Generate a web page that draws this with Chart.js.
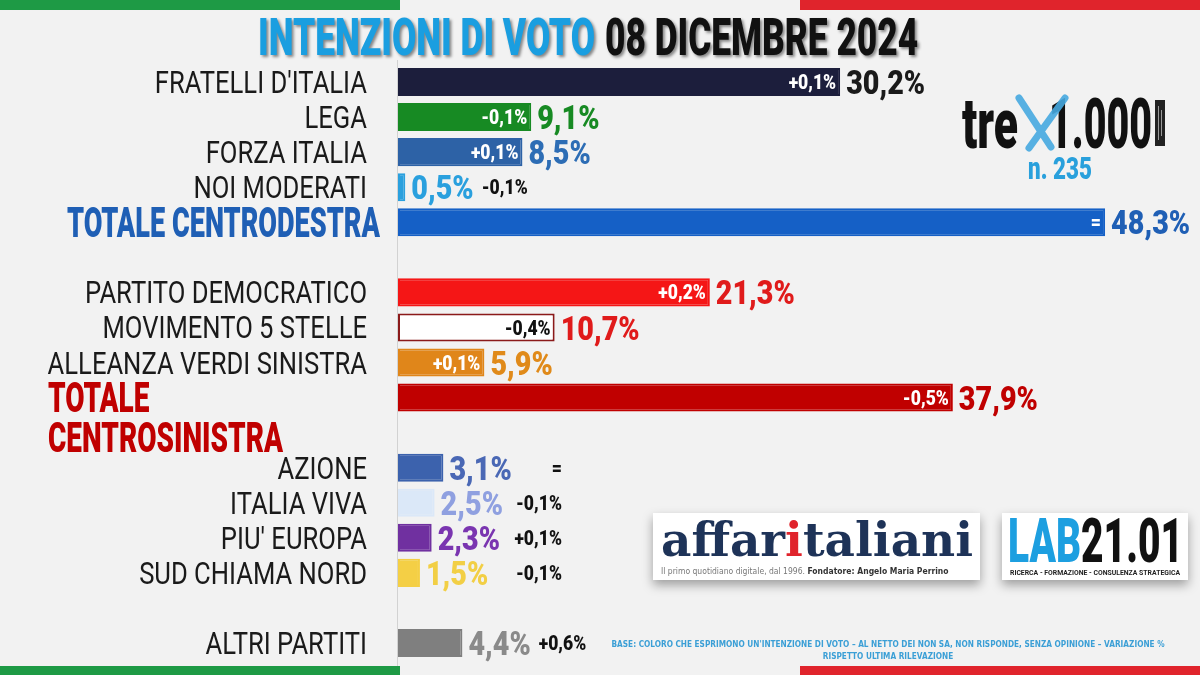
<!DOCTYPE html>
<html>
<head>
<meta charset="utf-8">
<script src="https://cdn.jsdelivr.net/npm/chart.js@4.4.1/dist/chart.umd.min.js"></script>
<style>
html, body { margin: 0; padding: 0; background: #f2f2f2; }
#wrap { position: relative; width: 1200px; height: 675px; }
</style>
</head>
<body>
<div id="wrap"><canvas id="voto"></canvas></div>
<script>
// dati del sondaggio (le righe vuote sono solo spazi tra i gruppi)
var partiti = ["FRATELLI D'ITALIA", "LEGA", "FORZA ITALIA", "NOI MODERATI", "TOTALE CENTRODESTRA", "",
  "PARTITO DEMOCRATICO", "MOVIMENTO 5 STELLE", "ALLEANZA VERDI SINISTRA", "TOTALE CENTROSINISTRA", "",
  "AZIONE", "ITALIA VIVA", "PIU' EUROPA", "SUD CHIAMA NORD", "", "ALTRI PARTITI"];
var percentuali = [30.2, 9.1, 8.5, 0.5, 48.3, null, 21.3, 10.7, 5.9, 37.9, null, 3.1, 2.5, 2.3, 1.5, null, 4.4];
var variazioni = ["+0,1%", "-0,1%", "+0,1%", "-0,1%", "=", null, "+0,2%", "-0,4%", "+0,1%", "-0,5%", null,
  "=", "-0,1%", "+0,1%", "-0,1%", null, "+0,6%"];

var coloriBarre = ["#1c1e3c", "#178a23", "#2d62a6", "#2aa0de", "#1560c6", null,
  "#f51616", "#ffffff", "#e0861a", "#c00000", null,
  "#3c62ad", "#dbe8f8", "#7030a0", "#f4cf45", null, "#7f7f7f"];
var coloriBordo = ["#1c1e3c", "#178a23", "#2d62a6", "#2aa0de", "#1560c6", null,
  "#f51616", "#8b1a1a", "#e0861a", "#c00000", null,
  "#3c62ad", "#dbe8f8", "#7030a0", "#f4cf45", null, "#7f7f7f"];
var coloriValori = ["#1a1a1a", "#178a23", "#2d6db5", "#2aa0de", "#1f5fb5", null,
  "#e01b1b", "#e01b1b", "#e08a1a", "#c00000", null,
  "#4a68b5", "#8fa0e0", "#7a35b0", "#f2cf45", null, "#8a8a8a"];
var coloriVariazione = ["#fff", "#fff", "#fff", "#111", "#fff", null,
  "#fff", "#111", "#fff", "#fff", null,
  "#111", "#111", "#111", "#111", null, "#111"];

var PESANTE = "Roboto, 'DejaVu Sans', sans-serif";

function scala(ctx, font, campione, larghezza) {
  ctx.font = font;
  return larghezza / ctx.measureText(campione).width;
}

// scrive un testo compresso in orizzontale, y = centro delle maiuscole
function scritta(ctx, testo, x, y, size, font, colore, allinea, sx) {
  ctx.save();
  ctx.font = font;
  ctx.fillStyle = colore;
  ctx.textAlign = allinea;
  ctx.textBaseline = 'alphabetic';
  ctx.translate(x, y + size * 0.355);
  ctx.scale(sx, 1);
  ctx.fillText(testo, 0, 0);
  var w = ctx.measureText(testo).width * sx;
  ctx.restore();
  return w;
}

var disegnaTesti = {
  id: 'disegnaTesti',
  beforeDraw: function(chart) {
    var ctx = chart.ctx;
    var area = chart.chartArea;
    ctx.save();
    // bandiera sopra e sotto
    ctx.fillStyle = "#1e9a45";
    ctx.fillRect(0, 0, 400, 10);
    ctx.fillRect(0, 666, 400, 9);
    ctx.fillStyle = "#e0242c";
    ctx.fillRect(800, 0, 400, 10);
    ctx.fillRect(800, 666, 400, 9);
    // linea dell'asse
    ctx.strokeStyle = "#d2d2d2";
    ctx.lineWidth = 1;
    ctx.beginPath();
    ctx.moveTo(area.left - 0.5, 60);
    ctx.lineTo(area.left - 0.5, 666);
    ctx.stroke();
    ctx.restore();

    // titolo
    var fT = "900 52px " + PESANTE;
    var sT = scala(ctx, fT, "INTENZIONI DI VOTO", 337);
    ctx.save();
    ctx.shadowColor = "rgba(0,0,0,0.45)";
    ctx.shadowBlur = 3;
    ctx.shadowOffsetX = 2;
    ctx.shadowOffsetY = 2;
    scritta(ctx, "INTENZIONI DI VOTO", 258, 37, 52, fT, "#1a9ee0", "left", sT);
    scritta(ctx, "08 DICEMBRE 2024", 605, 37, 52, fT, "#111", "left", sT);
    ctx.restore();

    // logo tre x 1.000
    var fL = "900 70px " + PESANTE;
    scritta(ctx, "tre", 962, 123, 70, fL, "#111", "left", scala(ctx, fL, "tre", 56));
    scritta(ctx, "1.000", 1049, 123, 70, fL, "#111", "left", scala(ctx, fL, "1.000", 103));
    ctx.save();
    ctx.strokeStyle = "rgba(70,168,224,0.9)";
    ctx.lineWidth = 7;
    ctx.lineCap = "round";
    ctx.beginPath();
    ctx.moveTo(1019, 98); ctx.lineTo(1051, 147);
    ctx.moveTo(1065, 98); ctx.lineTo(1029, 148);
    ctx.stroke();
    ctx.fillStyle = "#222";
    ctx.fillRect(1155, 100, 10, 46);
    ctx.fillStyle = "#999";
    ctx.fillRect(1158, 106, 1, 34);
    ctx.fillRect(1161, 110, 1, 26);
    ctx.restore();
    var fN = "900 31px " + PESANTE;
    scritta(ctx, "n. 235", 1060, 168, 31, fN, "#29a0dc", "center", scala(ctx, fN, "n. 235", 64));

    // riquadri affaritaliani e LAB21.01
    ctx.save();
    ctx.shadowColor = "rgba(0,0,0,0.35)";
    ctx.shadowBlur = 10;
    ctx.shadowOffsetY = 5;
    ctx.fillStyle = "#fff";
    ctx.fillRect(653, 513, 327, 67);
    ctx.fillRect(1002, 513, 186, 67);
    ctx.restore();

    var fA = "bold 46px 'DejaVu Serif', serif";
    var sA = scala(ctx, fA, "affaritaliani", 312);
    var xa = 661;
    xa += scritta(ctx, "affar", xa, 540, 46, fA, "#1e3358", "left", sA);
    xa += scritta(ctx, "i", xa, 540, 46, fA, "#e0242c", "left", sA);
    scritta(ctx, "taliani", xa, 540, 46, fA, "#1e3358", "left", sA);
    var fS = "9px 'DejaVu Sans', sans-serif";
    var xs = 661;
    xs += scritta(ctx, "Il primo quotidiano digitale, dal 1996. ", xs, 571, 9, fS, "#777", "left", 0.85);
    scritta(ctx, "Fondatore: Angelo Maria Perrino", xs, 571, 9, "bold " + fS, "#333", "left", 0.85);

    var fB = "900 62px " + PESANTE;
    var sB = scala(ctx, fB, "LAB21.01", 175);
    var xb = 1008;
    xb += scritta(ctx, "LAB", xb, 540, 62, fB, "#1d9fe0", "left", sB);
    scritta(ctx, "21.01", xb, 540, 62, fB, "#111", "left", sB);
    var fR = "bold 8px " + PESANTE;
    scritta(ctx, "RICERCA - FORMAZIONE - CONSULENZA STRATEGICA", 1095, 572, 8, fR, "#222", "center",
      scala(ctx, fR, "RICERCA - FORMAZIONE - CONSULENZA STRATEGICA", 170));

    // nota in basso
    var fNota = "bold 8px 'DejaVu Sans', sans-serif";
    var riga1 = "BASE: COLORO CHE ESPRIMONO UN'INTENZIONE DI VOTO \u2013 AL NETTO DEI NON SA, NON RISPONDE, SENZA OPINIONE \u2013 VARIAZIONE %";
    var sNota = scala(ctx, fNota, riga1, 553);
    scritta(ctx, riga1, 888, 644, 8, fNota, "#3b9fd6", "center", sNota);
    scritta(ctx, "RISPETTO ULTIMA RILEVAZIONE", 888, 656, 8, fNota, "#3b9fd6", "center", sNota);
  },
  afterDatasetsDraw: function(chart) {
    var ctx = chart.ctx;
    var xS = chart.scales.x;
    var yS = chart.scales.y;

    var fEt = "31px Roboto, 'DejaVu Sans', sans-serif";
    var sEt = scala(ctx, fEt, "FRATELLI D'ITALIA ALLEANZA VERDI SINISTRA", 538);
    var fVal = "900 34px " + PESANTE;
    var sVal = scala(ctx, fVal, "30,2%", 79);
    var fVar = "900 20px " + PESANTE;
    var sVar = scala(ctx, fVar, "-0,1%", 46);
    var fTot = "900 42px " + PESANTE;

    for (var i = 0; i < partiti.length; i++) {
      if (partiti[i] === "") continue;
      var y = yS.getPixelForValue(i);

      // etichette dei partiti
      if (i === 4) {
        scritta(ctx, partiti[i], 380, y, 42, fTot, "#1f5fb5", "right", scala(ctx, fTot, partiti[i], 313));
      } else if (i === 9) {
        var sCs = scala(ctx, fTot, "CENTROSINISTRA", 235);
        scritta(ctx, "TOTALE", 48, y, 42, fTot, "#c00000", "left", sCs);
        scritta(ctx, "CENTROSINISTRA", 48, y + 40, 42, fTot, "#c00000", "left", sCs);
      } else {
        scritta(ctx, partiti[i], 367, y, 31, fEt, "#1a1a1a", "right", sEt);
      }

      // valore e variazione
      var xFine = xS.getPixelForValue(percentuali[i]);
      var testo = percentuali[i].toFixed(1).replace(".", ",") + "%";
      var wVal = scritta(ctx, testo, xFine + 6, y, 34, fVal, coloriValori[i], "left", sVal);

      if (percentuali[i] >= 5) {
        scritta(ctx, variazioni[i], xFine - 4, y, 20, fVar, coloriVariazione[i], "right", sVar);
      } else if (i >= 11 && i <= 14) {
        scritta(ctx, variazioni[i], xS.getPixelForValue(11.2), y, 20, fVar, coloriVariazione[i], "right", sVar);
      } else {
        scritta(ctx, variazioni[i], xFine + 6 + wVal + 8, y, 20, fVar, coloriVariazione[i], "left", sVar);
      }
    }
  }
};

new Chart("voto", {
  type: 'bar',
  data: {
    labels: partiti,
    datasets: [{
      label: 'Intenzioni di voto',
      data: percentuali,
      backgroundColor: coloriBarre,
      borderColor: coloriBordo,
      borderWidth: 2,
      borderSkipped: false,
      barPercentage: 0.8,
      categoryPercentage: 1.0
    }]
  },
  options: {
    indexAxis: 'y',
    responsive: true,
    maintainAspectRatio: false,
    animation: false,
    layout: {
      padding: { left: 398, right: 70, top: 64.5, bottom: 14.5 }
    },
    scales: {
      x: { display: false, min: 0, max: 50 },
      y: { display: false }
    },
    plugins: {
      legend: { display: false },
      tooltip: { enabled: false }
    }
  },
  plugins: [disegnaTesti]
});
</script>
</body>
</html>
